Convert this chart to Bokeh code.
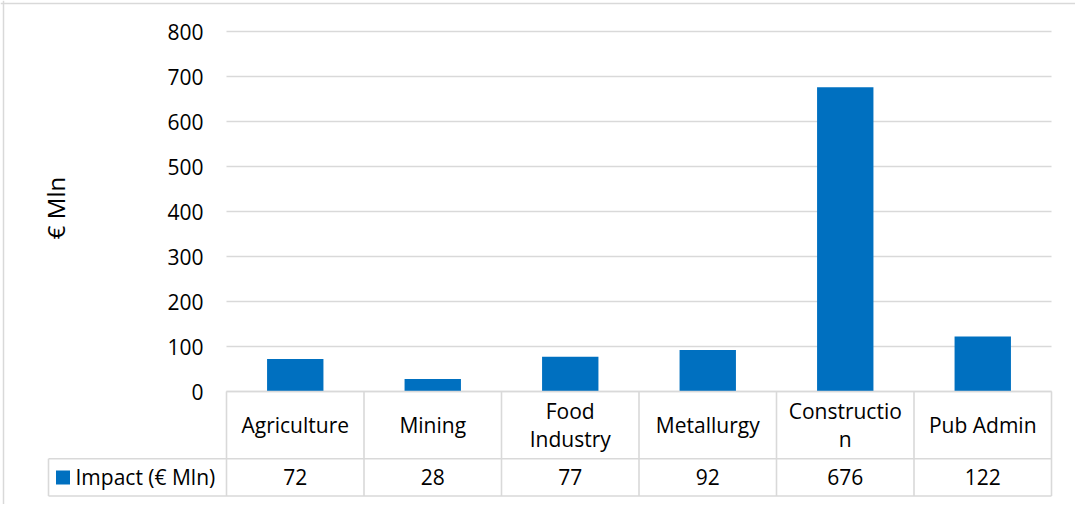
from bokeh.plotting import figure
from bokeh.models import Span
from bokeh.core.properties import value
from bokeh.embed import file_html
from bokeh.resources import INLINE

categories = ["Agriculture", "Mining", "Food\nIndustry", "Metallurgy", "Constructio\nn", "Pub Admin"]
impact = [72, 28, 77, 92, 676, 122]
value_labels = ["72", "28", "77", "92", "676", "122"]
y_ticks = [0, 100, 200, 300, 400, 500, 600, 700, 800]
series_name = "Impact (€ Mln)"
y_title = "€ Mln"

FONT = value("Open Sans")
FS = "21px"
BLUE = "#0070C0"
GRID = "#d9d9d9"

# layout (px) -> data conversion helpers
W, H = 1075, 504
PX0, PY0 = 0, 0
COL_PX = 137.5          # px per category column
X0_PX = 226             # page x of first column
Y0_PX = 391             # page y of value 0
YS = 0.45               # px per value unit

def xd(px):
    return (px - X0_PX) / COL_PX

def yd(py):
    return (Y0_PX - py) / YS

p = figure(width=W, height=H, output_backend="svg", toolbar_location=None,
           x_range=(xd(PX0), xd(PX0 + W)), y_range=(yd(PY0 + H), yd(PY0)),
           x_axis_location=None, y_axis_location=None, min_border=0,
           background_fill_color="white", border_fill_color="white")
p.grid.visible = False
p.outline_line_color = None

n = len(categories)
xs = [i + 0.5 for i in range(n)]

# gridlines
p.segment(x0=[0] * len(y_ticks), x1=[n] * len(y_ticks), y0=y_ticks, y1=y_ticks,
          line_color=GRID, line_width=1.4)

# bars
p.vbar(x=xs, top=impact, bottom=0, width=0.41, fill_color=BLUE, line_color=None)

# y tick labels
p.text(x=[xd(203)] * len(y_ticks), y=y_ticks, text=[str(t) for t in y_ticks],
       text_font=FONT, text_font_size=FS, text_align="right", text_baseline="middle",
       text_color="#000000")

# y axis title
p.text(x=[xd(55)], y=[yd(207.5)], text=[y_title], angle=1.5708,
       text_font=FONT, text_font_size="24px", text_align="center", text_baseline="middle",
       text_color="#000000")

# data table
r_top, r_mid, r_bot = 0, yd(458.3), yd(495.5)
legend_left = xd(48)
# horizontal lines
p.segment(x0=[0, legend_left, legend_left], x1=[n, n, n], y0=[r_top, r_mid, r_bot],
          y1=[r_top, r_mid, r_bot], line_color=GRID, line_width=1.6)
# vertical lines
p.segment(x0=list(range(n + 1)), x1=list(range(n + 1)), y0=[r_top] * (n + 1),
          y1=[r_bot] * (n + 1), line_color=GRID, line_width=1.6)
p.segment(x0=[legend_left], x1=[legend_left], y0=[r_mid], y1=[r_bot],
          line_color=GRID, line_width=1.6)

# category labels
p.text(x=xs, y=[(r_top + r_mid) / 2] * n, text=categories, text_font=FONT,
       text_font_size=FS, text_align="center", text_baseline="middle",
       text_line_height=1.0, text_color="#000000")
# value labels
p.text(x=xs, y=[(r_mid + r_bot) / 2] * n, text=value_labels, text_font=FONT,
       text_font_size=FS, text_align="center", text_baseline="middle",
       text_color="#000000")
# legend key
p.rect(x=[xd(62.5)], y=[(r_mid + r_bot) / 2], width=14 / COL_PX, height=14 / YS,
       fill_color=BLUE, line_color=None)
p.text(x=[xd(75)], y=[(r_mid + r_bot) / 2], text=[series_name], text_font=FONT,
       text_font_size=FS, text_align="left", text_baseline="middle",
       text_color="#000000")

# chart border (left and top visible)
p.add_layout(Span(location=xd(3), dimension="height", line_color=GRID, line_width=1.5))
p.add_layout(Span(location=yd(3), dimension="width", line_color=GRID, line_width=1.5))

open("out.html", "w").write(file_html(p, INLINE))
